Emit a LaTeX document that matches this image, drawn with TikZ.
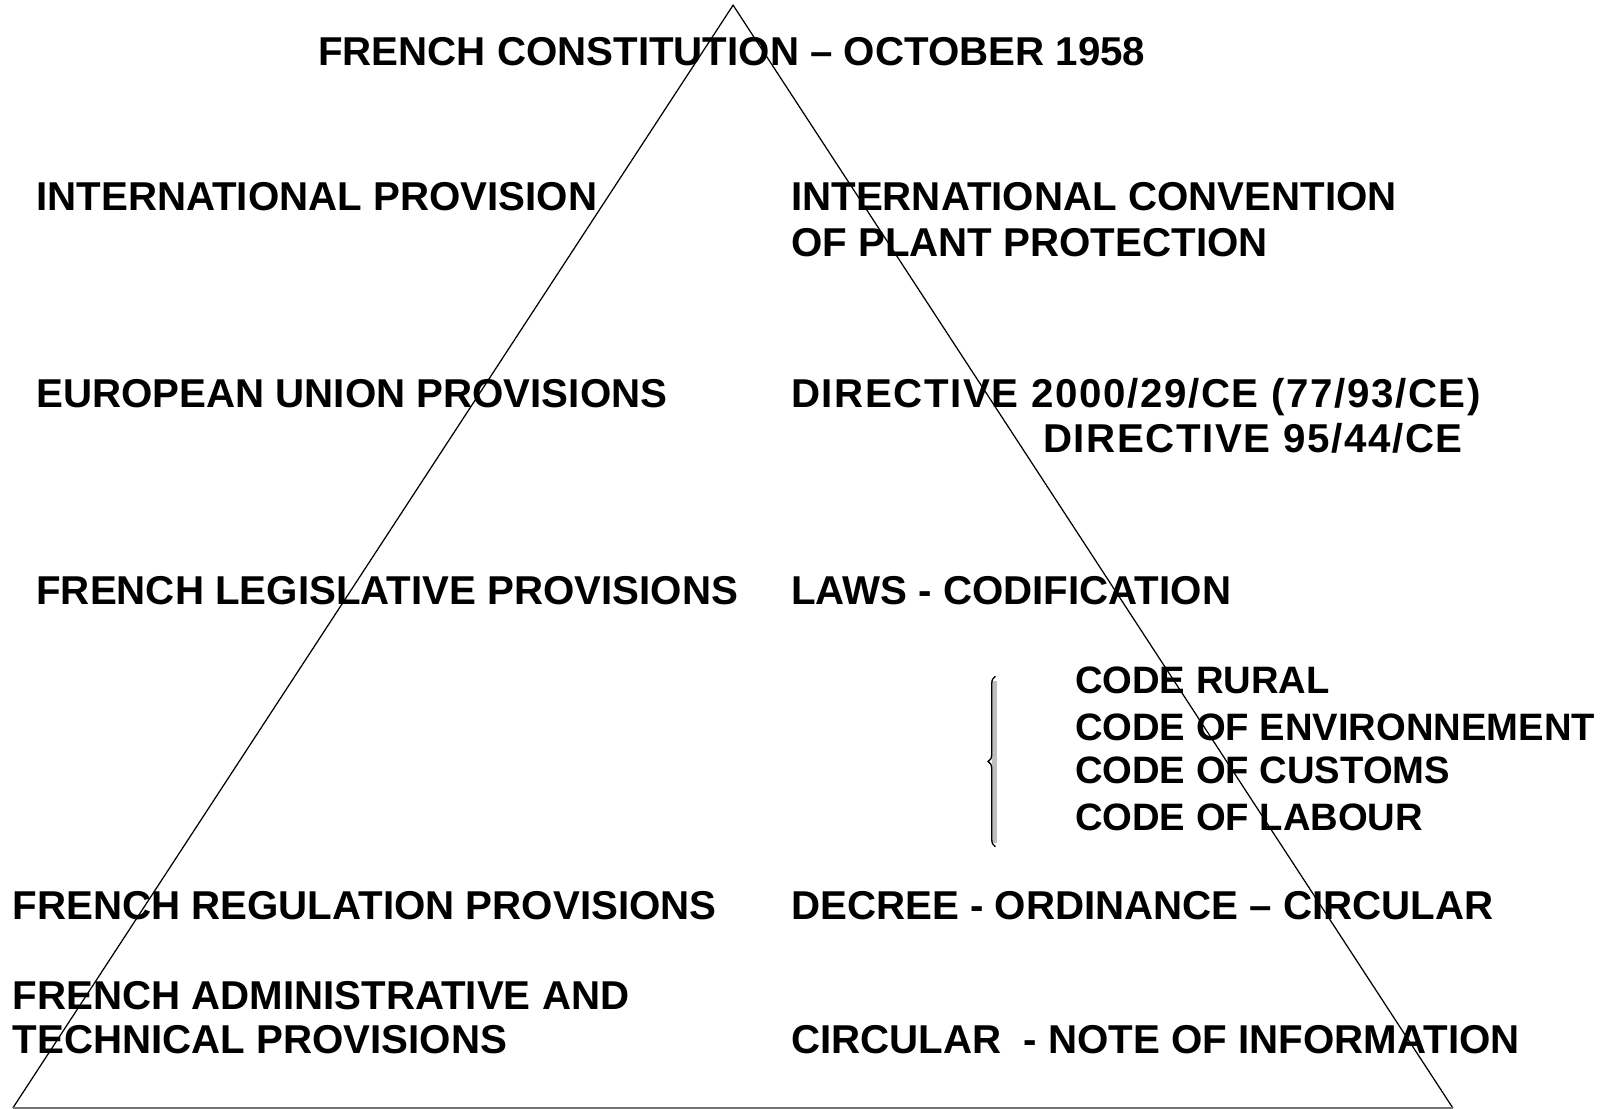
\documentclass[tikz,border=0pt]{standalone}
\usepackage{fontspec}
\setmainfont{Liberation Sans}
\newfontfamily\widefont[LetterSpace=4]{Liberation Sans}
\usetikzlibrary{decorations.pathreplacing}
\tikzset{
    lbl/.style={anchor=base west, inner sep=0pt, font=\fontsize{39}{44}\selectfont\bfseries},
    codelbl/.style={lbl, font=\fontsize{37}{44}\selectfont\bfseries},
    widelbl/.style={lbl, font=\fontsize{39}{44}\selectfont\widefont\bfseries},
    edge/.style={line width=1.2pt, black},
}

\begin{document}
\begin{tikzpicture}[x=1pt, y=-1pt]
\useasboundingbox (0,0) rectangle (1568,1074);

% ── Pyramid ──
\coordinate (top) at (710,5);
\coordinate (bl) at (12.5,1073);
\coordinate (br) at (1407,1073);
\draw[edge] (bl) -- (top) -- (br);
\draw[line width=1.2pt, black!55] (bl) -- (br);

% ── Title ──
\node[lbl] (const) at (308,63) {FRENCH CONSTITUTION – OCTOBER 1958};

% ── Left column ──
\node[lbl] (intl) at (35,204) {INTERNATIONAL PROVISION};
\node[lbl] (eu) at (35,395) {EUROPEAN UNION PROVISIONS};
\node[lbl] (legis) at (35,585) {FRENCH LEGISLATIVE PROVISIONS};
\node[lbl] (regul) at (12,891) {FRENCH REGULATION PROVISIONS};
\node[lbl] (admin) at (12,978) {FRENCH ADMINISTRATIVE AND};
\node[lbl] (techn) at (12,1020) {TECHNICAL PROVISIONS};

% ── Right column ──
\node[lbl] (conv) at (766,204) {INTERNATIONAL CONVENTION};
\node[lbl] (plant) at (766,248) {OF PLANT PROTECTION};
\node[widelbl] (dir1) at (766,395) {DIRECTIVE 2000/29/CE (77/93/CE)};
\node[widelbl] (dir2) at (1010,438) {DIRECTIVE 95/44/CE};
\node[lbl] (laws) at (766,585) {LAWS - CODIFICATION};
\node[codelbl] (rural) at (1041,672) {CODE RURAL};
\node[codelbl] (envir) at (1041,717) {CODE OF ENVIRONNEMENT};
\node[codelbl] (cust) at (1041,759) {CODE OF CUSTOMS};
\node[codelbl] (labour) at (1041,804) {CODE OF LABOUR};
\node[lbl] (decree) at (766,891) {DECREE - ORDINANCE – CIRCULAR};
\node[lbl] (circ) at (766,1020) {CIRCULAR\ \ - NOTE OF INFORMATION};

% ── Brace ──
\fill[black!25] (961,660) rectangle (966,816);
\draw[line width=1.3pt, decorate, decoration={brace, amplitude=7pt}] (964,820) -- (964,655);

\end{tikzpicture}
\end{document}
